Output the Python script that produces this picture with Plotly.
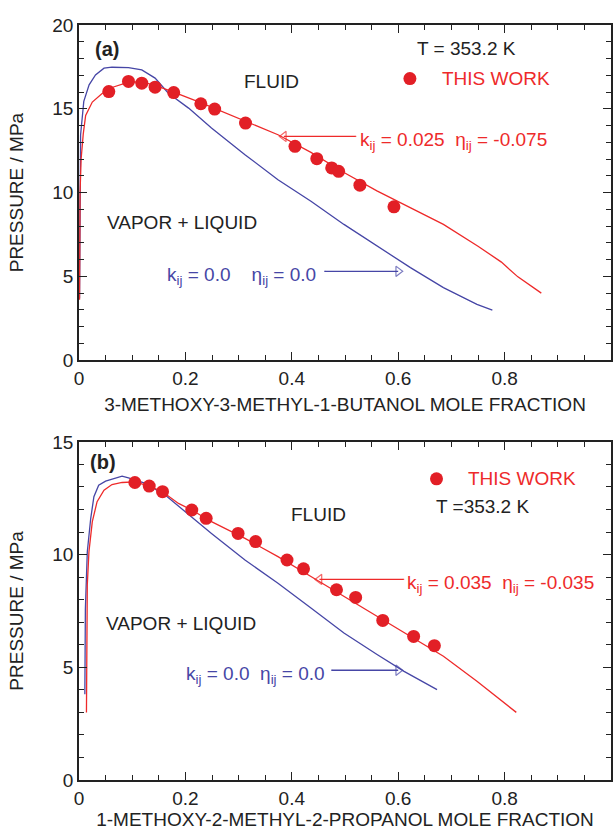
import plotly.graph_objects as go

# ---------------- data: panel (a) ----------------
a_exp_x = [0.056, 0.093, 0.118, 0.143, 0.178, 0.229, 0.255, 0.313, 0.406, 0.447, 0.475, 0.488, 0.528, 0.592]
a_exp_p = [16.03, 16.63, 16.53, 16.29, 15.97, 15.30, 14.98, 14.15, 12.76, 12.02, 11.47, 11.27, 10.44, 9.15]

a_fit_x = [0.001, 0.002, 0.004, 0.008, 0.0125, 0.025, 0.044, 0.062, 0.093, 0.118, 0.143, 0.178,
           0.231, 0.312, 0.374, 0.436, 0.498, 0.56, 0.62, 0.685, 0.75, 0.794, 0.825, 0.869]
a_fit_p = [3.6, 10.0, 12.0, 13.5, 14.6, 15.4, 15.93, 16.27, 16.59, 16.6, 16.4, 16.0,
           15.34, 14.25, 13.45, 12.4, 11.2, 10.1, 9.15, 8.1, 6.8, 5.85, 4.97, 4.0]

a_pr_x = [0.001, 0.003, 0.009, 0.019, 0.031, 0.047, 0.062, 0.093, 0.118, 0.143, 0.168, 0.206,
          0.249, 0.312, 0.374, 0.436, 0.498, 0.561, 0.623, 0.685, 0.748, 0.777]
a_pr_p = [3.7, 13.45, 15.44, 16.43, 17.02, 17.42, 17.48, 17.46, 17.32, 16.83, 15.93, 15.04,
          13.85, 12.26, 10.77, 9.48, 8.10, 6.81, 5.52, 4.33, 3.33, 2.99]

# ---------------- data: panel (b) ----------------
b_exp_x = [0.105, 0.132, 0.157, 0.212, 0.239, 0.299, 0.332, 0.391, 0.422, 0.484, 0.520, 0.571, 0.629, 0.668]
b_exp_p = [13.20, 13.04, 12.79, 11.98, 11.61, 10.94, 10.58, 9.76, 9.37, 8.44, 8.10, 7.08, 6.37, 5.96]

b_fit_x = [0.014, 0.0156, 0.0187, 0.025, 0.034, 0.047, 0.062, 0.081, 0.105, 0.132, 0.157, 0.187,
           0.212, 0.249, 0.312, 0.374, 0.436, 0.498, 0.561, 0.623, 0.685, 0.748, 0.822]
b_fit_p = [3.0, 8.66, 10.13, 11.46, 12.35, 12.86, 13.11, 13.2, 13.23, 13.04, 12.79, 12.27,
           11.98, 11.46, 10.72, 9.91, 9.03, 8.14, 7.26, 6.37, 5.49, 4.38, 3.0]

b_pr_x = [0.011, 0.012, 0.0156, 0.022, 0.028, 0.037, 0.05, 0.062, 0.081, 0.093, 0.125, 0.162,
          0.206, 0.249, 0.312, 0.374, 0.436, 0.498, 0.561, 0.611, 0.673]
b_pr_p = [3.8, 7.6, 10.13, 11.6, 12.57, 13.08, 13.26, 13.35, 13.48, 13.4, 13.16, 12.64,
          11.76, 10.94, 9.76, 8.73, 7.63, 6.52, 5.56, 4.82, 4.01]

# arrow endpoints (start at label, end at curve)
a_red_arrow_x = [0.520, 0.385]
a_red_arrow_p = [13.35, 13.35]
a_blue_arrow_x = [0.462, 0.600]
a_blue_arrow_p = [5.3, 5.3]
b_red_arrow_x = [0.610, 0.452]
b_red_arrow_p = [8.9, 8.9]
b_blue_arrow_x = [0.475, 0.600]
b_blue_arrow_p = [4.87, 4.87]

legend_marker_a = ([0.622], [16.8])
legend_marker_b = ([0.672], [13.36])

RED = "#ee2a2a"
RED_PT = "#e21f26"
BLUE = "#4646a6"
DARK = "#222222"
FONT = "Liberation Sans, Arial, sans-serif"
FS = 19

fig = go.Figure()

def add_panel(xa, ya, exp_x, exp_p, fit_x, fit_p, pr_x, pr_p, red_arr, blue_arr, leg):
    fig.add_trace(go.Scatter(x=pr_x, y=pr_p, mode="lines", line=dict(color=BLUE, width=1.3),
                             xaxis=xa, yaxis=ya, showlegend=False))
    fig.add_trace(go.Scatter(x=fit_x, y=fit_p, mode="lines", line=dict(color=RED, width=1.3),
                             xaxis=xa, yaxis=ya, showlegend=False))
    fig.add_trace(go.Scatter(x=exp_x, y=exp_p, mode="markers",
                             marker=dict(color=RED_PT, size=13, line=dict(width=0)),
                             xaxis=xa, yaxis=ya, showlegend=False))
    fig.add_trace(go.Scatter(x=leg[0], y=leg[1], mode="markers",
                             marker=dict(color=RED_PT, size=13, line=dict(width=0)),
                             xaxis=xa, yaxis=ya, showlegend=False))
    # red arrow (pointing left)
    fig.add_trace(go.Scatter(x=red_arr[0], y=red_arr[1], mode="lines+markers",
                             line=dict(color=RED, width=1.3),
                             marker=dict(symbol=["line-ew", "triangle-left-open"], size=[1, 9],
                                         color=RED, line=dict(color=RED, width=1.2)),
                             xaxis=xa, yaxis=ya, showlegend=False))
    # blue arrow (pointing right)
    fig.add_trace(go.Scatter(x=blue_arr[0], y=blue_arr[1], mode="lines+markers",
                             line=dict(color=BLUE, width=1.3),
                             marker=dict(symbol=["line-ew", "triangle-right-open"], size=[1, 9],
                                         color=BLUE, line=dict(color=BLUE, width=1.2)),
                             xaxis=xa, yaxis=ya, showlegend=False))

add_panel("x", "y", a_exp_x, a_exp_p, a_fit_x, a_fit_p, a_pr_x, a_pr_p,
          (a_red_arrow_x, a_red_arrow_p), (a_blue_arrow_x, a_blue_arrow_p), legend_marker_a)
add_panel("x2", "y2", b_exp_x, b_exp_p, b_fit_x, b_fit_p, b_pr_x, b_pr_p,
          (b_red_arrow_x, b_red_arrow_p), (b_blue_arrow_x, b_blue_arrow_p), legend_marker_b)

def ann(xr, yr, x, y, text, color=DARK, size=FS, xanchor="left"):
    fig.add_annotation(xref=xr, yref=yr, x=x, y=y, text=text, showarrow=False,
                       xanchor=xanchor, yanchor="middle",
                       font=dict(family=FONT, size=size, color=color))

# panel (a) annotations
ann("x", "y", 0.026, 18.55, "<b>(a)</b>", size=20)
ann("x", "y", 0.632, 18.6, "T = 353.2 K")
ann("x", "y", 0.679, 16.8, "THIS WORK", color=RED)
ann("x", "y", 0.361, 16.6, "FLUID", xanchor="center")
ann("x", "y", 0.193, 8.2, "VAPOR + LIQUID", xanchor="center")
ann("x", "y", 0.524, 13.1, "k<sub>ij</sub> = 0.025  η<sub>ij</sub> = -0.075", color=RED)
ann("x", "y", 0.162, 5.05, "k<sub>ij</sub> = 0.0&nbsp;&nbsp;&nbsp;&nbsp;η<sub>ij</sub> = 0.0", color=BLUE)

# panel (b) annotations
ann("x2", "y2", 0.017, 14.1, "<b>(b)</b>", size=20)
ann("x2", "y2", 0.728, 13.36, "THIS WORK", color=RED)
ann("x2", "y2", 0.667, 12.12, "T =353.2 K")
ann("x2", "y2", 0.451, 11.8, "FLUID", xanchor="center")
ann("x2", "y2", 0.191, 6.95, "VAPOR + LIQUID", xanchor="center")
ann("x2", "y2", 0.613, 8.7, "k<sub>ij</sub> = 0.035  η<sub>ij</sub> = -0.035", color=RED)
ann("x2", "y2", 0.198, 4.68, "k<sub>ij</sub> = 0.0  η<sub>ij</sub> = 0.0", color=BLUE)

axis_common = dict(showline=True, linecolor=DARK, linewidth=1.5, mirror="allticks",
                   ticks="inside", ticklen=8, tickwidth=1.3, tickcolor=DARK,
                   showgrid=False, zeroline=False,
                   tickfont=dict(family=FONT, size=FS, color=DARK))

xtitle_font = dict(family=FONT, size=FS, color=DARK)

fig.update_layout(
    width=613, height=830,
    margin=dict(l=79, r=0, t=25, b=48),
    plot_bgcolor="white", paper_bgcolor="white",
    xaxis=dict(domain=[0, 1], anchor="y", range=[0, 1], dtick=0.2,
               minor=dict(dtick=0.05, ticks="inside", ticklen=5, tickcolor=DARK),
               title=dict(text="3-METHOXY-3-METHYL-1-BUTANOL MOLE FRACTION", standoff=10,
                          font=xtitle_font),
               **axis_common),
    yaxis=dict(domain=[0.5561, 1], anchor="x", range=[0, 20], dtick=5,
               minor=dict(dtick=1, ticks="inside", ticklen=5, tickcolor=DARK),
               title=dict(text="PRESSURE / MPa", standoff=24, font=xtitle_font),
               **axis_common),
    xaxis2=dict(domain=[0, 1], anchor="y2", range=[0, 1], dtick=0.2,
                minor=dict(dtick=0.05, ticks="inside", ticklen=5, tickcolor=DARK),
                title=dict(text="1-METHOXY-2-METHYL-2-PROPANOL MOLE FRACTION", standoff=8,
                           font=xtitle_font),
                **axis_common),
    yaxis2=dict(domain=[0, 0.4478], anchor="x2", range=[0, 15], dtick=5,
                minor=dict(dtick=1, ticks="inside", ticklen=5, tickcolor=DARK),
                title=dict(text="PRESSURE / MPa", standoff=24, font=xtitle_font),
                **axis_common),
)

fig.write_html("out.html")
